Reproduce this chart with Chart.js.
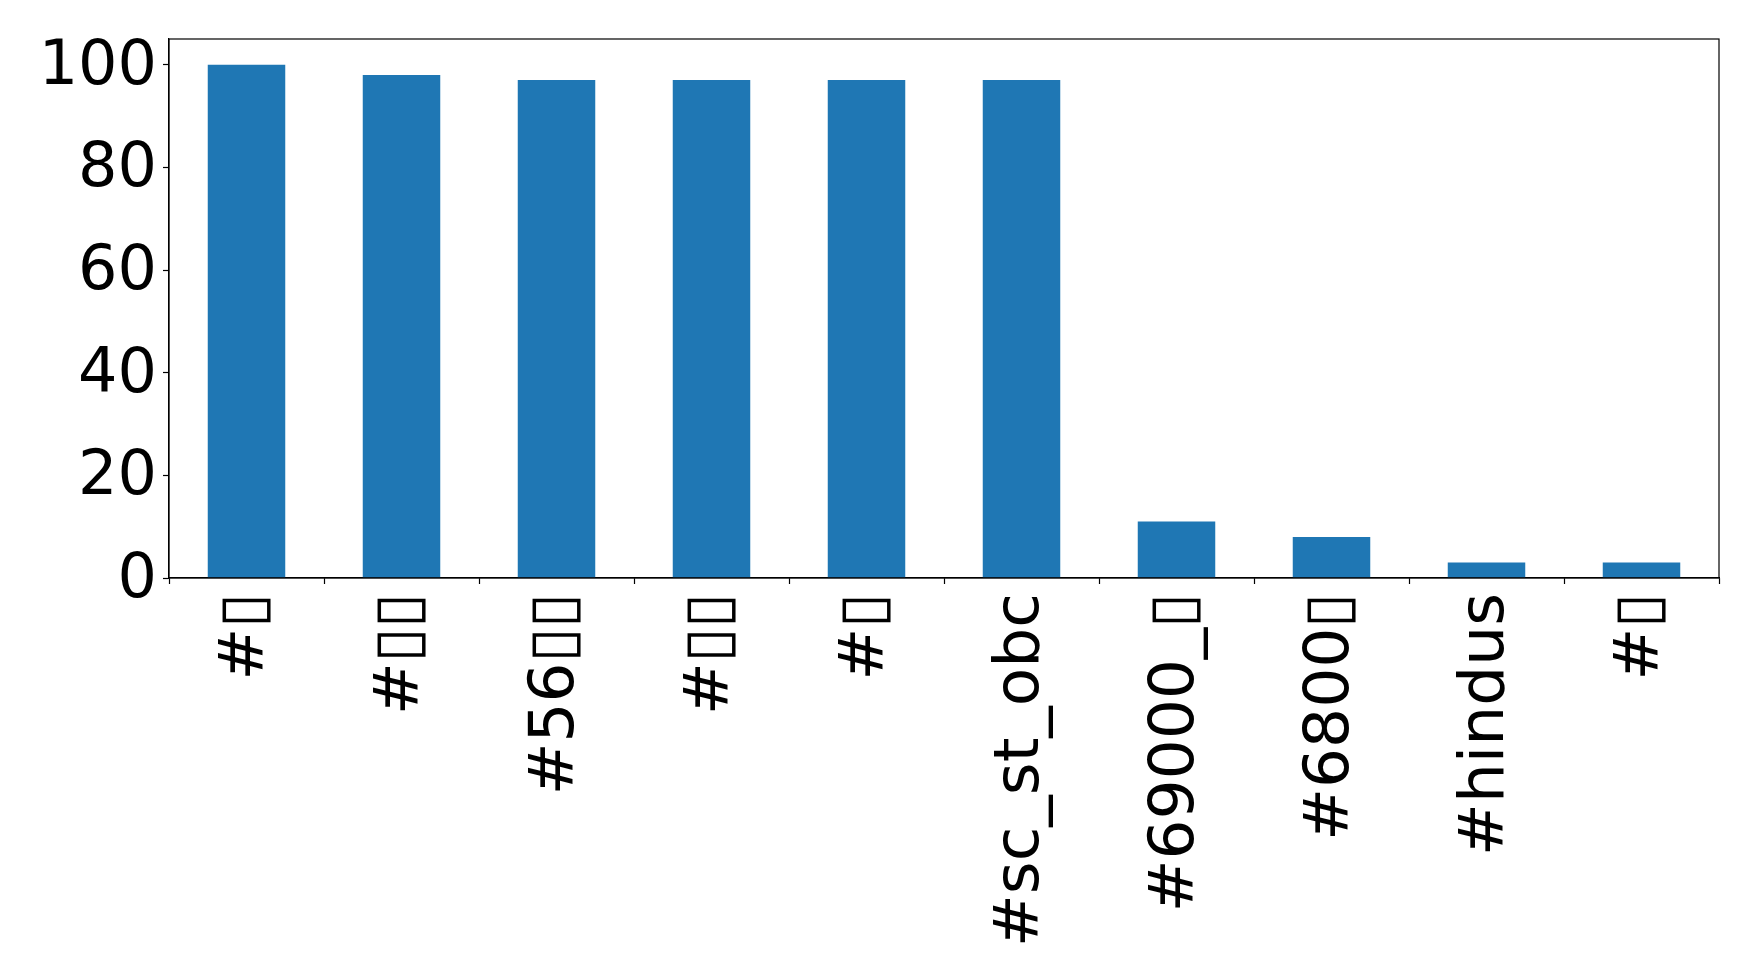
<!DOCTYPE html>
<html>
<head>
<meta charset="utf-8">
<title>Hashtag counts</title>
<script src="https://cdn.jsdelivr.net/npm/chart.js@4"></script>
<style>
  html, body { margin: 0; padding: 0; background: #ffffff; }
  canvas { display: block; }
</style>
</head>
<body>
<canvas id="chart" width="1758" height="979"></canvas>
<script>
// Hashtags (glyphs the font could not show appear as empty boxes) and their counts
const hashtags = ["#▯", "#▯▯", "#56▯▯", "#▯▯", "#▯", "#sc_st_obc", "#69000_▯", "#6800▯", "#hindus", "#▯"];
const counts = [100, 98, 97, 97, 97, 97, 11, 8, 3, 3];
const yTickValues = [0, 20, 40, 60, 80, 100];
const yMax = 105;

const barColor = "#1f77b4";
const fontFamily = "'DejaVu Sans', sans-serif";

// Closed frame around the plotting area
const frame = {
  id: "frame",
  afterDraw(chart) {
    const { ctx, chartArea: a } = chart;
    ctx.save();
    ctx.strokeStyle = "#000000";
    ctx.lineWidth = 1.2;
    ctx.strokeRect(a.left, a.top, a.right - a.left, a.bottom - a.top);
    ctx.restore();
  }
};

new Chart(document.getElementById("chart"), {
  type: "bar",
  data: {
    labels: hashtags,
    datasets: [{
      data: counts,
      backgroundColor: barColor,
      borderWidth: 0,
      categoryPercentage: 0.5,
      barPercentage: 1.0
    }]
  },
  options: {
    responsive: false,
    animation: false,
    devicePixelRatio: 1,
    layout: { padding: { top: 39, right: 39, bottom: 0, left: 0 } },
    plugins: {
      legend: { display: false },
      tooltip: { enabled: false }
    },
    scales: {
      x: {
        grid: { drawOnChartArea: false, color: "#000000", tickLength: 6, tickWidth: 1.2 },
        border: { color: "#000000", width: 1.2 },
        ticks: {
          autoSkip: false,
          minRotation: 90,
          maxRotation: 90,
          padding: 9,
          color: "#000000",
          font: { family: fontFamily, size: 63 }
        },
        afterFit(scale) {
          scale.height = 401;
          scale.paddingLeft = 0;
          scale.paddingRight = 0;
        }
      },
      y: {
        min: 0,
        max: yMax,
        grid: { drawOnChartArea: false, color: "#000000", tickLength: 6, tickWidth: 1.2 },
        border: { color: "#000000", width: 1.2 },
        ticks: {
          padding: 6,
          labelOffset: 3,
          color: "#000000",
          font: { family: fontFamily, size: 62 }
        },
        afterBuildTicks(scale) { scale.ticks = yTickValues.map(v => ({ value: v })); },
        afterFit(scale) {
          scale.width = 169;
          scale.paddingTop = 0;
          scale.paddingBottom = 0;
        }
      }
    }
  },
  plugins: [frame]
});
</script>
</body>
</html>
